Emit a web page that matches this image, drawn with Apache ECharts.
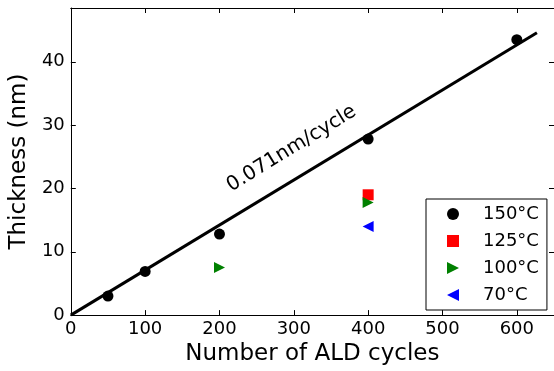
<!DOCTYPE html>
<html>
<head>
<meta charset="utf-8">
<script src="https://cdn.jsdelivr.net/npm/echarts@6/dist/echarts.min.js"></script>
<style>
html,body{margin:0;padding:0;background:#fff;}
#chart{width:554px;height:371px;}
</style>
</head>
<body>
<div id="chart"></div>
<script>
// ---- data ----
var s150 = [[50, 3.0], [100, 6.9], [200, 12.8], [400, 27.8], [600, 43.5]];
var s125 = [[400, 19.0]];
var s100 = [[200, 7.5], [400, 17.8]];
var s70  = [[400, 14.0]];
var fitLine = [[0, 0], [627, 44.6]];
var seriesNames = ['150°C', '125°C', '100°C', '70°C'];
var annotationText = '0.071nm/cycle';
var annotationAt = [297, 26.3];
var xTicks = [0, 100, 200, 300, 400, 500, 600];
var yTicks = [0, 10, 20, 30, 40];

var FONT = 'DejaVu Sans';
var chart = echarts.init(document.getElementById('chart'), null, {renderer: 'canvas'});

var xMin = 0, xMax = 650, yMin = 0, yMax = 48.5;

function axisCommon(showLabel) {
  return {
    axisLine: {show: true, onZero: false, lineStyle: {color: '#000', width: 1}},
    axisTick: {show: true, inside: true, length: 5, lineStyle: {color: '#000', width: 1}},
    axisLabel: {show: showLabel, color: '#000', fontFamily: FONT, fontSize: 18, margin: 6},
    splitLine: {show: false}
  };
}

var option = {
  backgroundColor: '#fff',
  animation: false,
  grid: {left: 69, top: 8, width: 487, height: 310, containLabel: false},
  xAxis: [
    Object.assign({type: 'value', min: xMin, max: xMax, interval: 100, position: 'bottom',
      name: 'Number of ALD cycles', nameLocation: 'middle', nameGap: 24,
      nameTextStyle: {fontFamily: FONT, fontSize: 23, color: '#000'}}, axisCommon(true),
      {axisLabel: {show: true, color: '#000', fontFamily: FONT, fontSize: 18, margin: 5,
        showMaxLabel: false,
        formatter: function (v) { return xTicks.indexOf(v) >= 0 ? String(v) : ''; }}}),
    Object.assign({type: 'value', min: xMin, max: xMax, interval: 100, position: 'top'}, axisCommon(false))
  ],
  yAxis: [
    Object.assign({type: 'value', min: yMin, max: yMax, interval: 10, position: 'left',
      name: 'Thickness (nm)', nameLocation: 'middle', nameGap: 33,
      nameTextStyle: {fontFamily: FONT, fontSize: 23, color: '#000'}}, axisCommon(true),
      {axisLabel: {show: true, color: '#000', fontFamily: FONT, fontSize: 18, margin: 6,
        formatter: function (v) { return yTicks.indexOf(v) >= 0 ? String(v) : ''; }}}),
    Object.assign({type: 'value', min: yMin, max: yMax, interval: 10, position: 'right'}, axisCommon(false))
  ],
  legend: {
    show: true,
    orient: 'vertical',
    left: 426, top: 199,
    padding: [5, 8, 5, 21],
    itemGap: 7,
    itemWidth: 12, itemHeight: 12,
    itemStyle: {borderWidth: 0},
    borderColor: '#000', borderWidth: 1, borderRadius: 0,
    backgroundColor: '#fff',
    data: seriesNames,
    textStyle: {fontFamily: FONT, fontSize: 18, color: '#000', lineHeight: 20, padding: [0, 0, 0, 19]}
  },
  series: [
    {type: 'line', name: 'fit', data: fitLine, showSymbol: false, symbol: 'none',
      lineStyle: {color: '#000', width: 3}, silent: true, z: 2},
    {type: 'scatter', name: seriesNames[0], data: s150, symbol: 'circle', symbolSize: 11,
      itemStyle: {color: '#000', opacity: 1, borderWidth: 0}, z: 3},
    {type: 'scatter', name: seriesNames[1], data: s125, symbol: 'rect', symbolSize: 11,
      itemStyle: {color: '#ff0000', opacity: 1, borderWidth: 0}, z: 3},
    {type: 'scatter', name: seriesNames[2], data: s100, symbol: 'path://M0,0 L10,5 L0,10 Z', symbolSize: [11, 11],
      itemStyle: {color: '#008000', opacity: 1, borderWidth: 0}, z: 3},
    {type: 'scatter', name: seriesNames[3], data: s70, symbol: 'path://M10,0 L0,5 L10,10 Z', symbolSize: [11, 11],
      itemStyle: {color: '#0000ff', opacity: 1, borderWidth: 0}, z: 3}
  ]
};
chart.setOption(option);

var p = chart.convertToPixel({gridIndex: 0}, annotationAt);
chart.setOption({
  graphic: [{
    type: 'text',
    x: p[0], y: p[1],
    rotation: 31.5 * Math.PI / 180,
    style: {text: annotationText, fontFamily: FONT, fontSize: 20, fill: '#000',
      textAlign: 'center', textVerticalAlign: 'middle'},
    z: 10
  }]
});
</script>
</body>
</html>
